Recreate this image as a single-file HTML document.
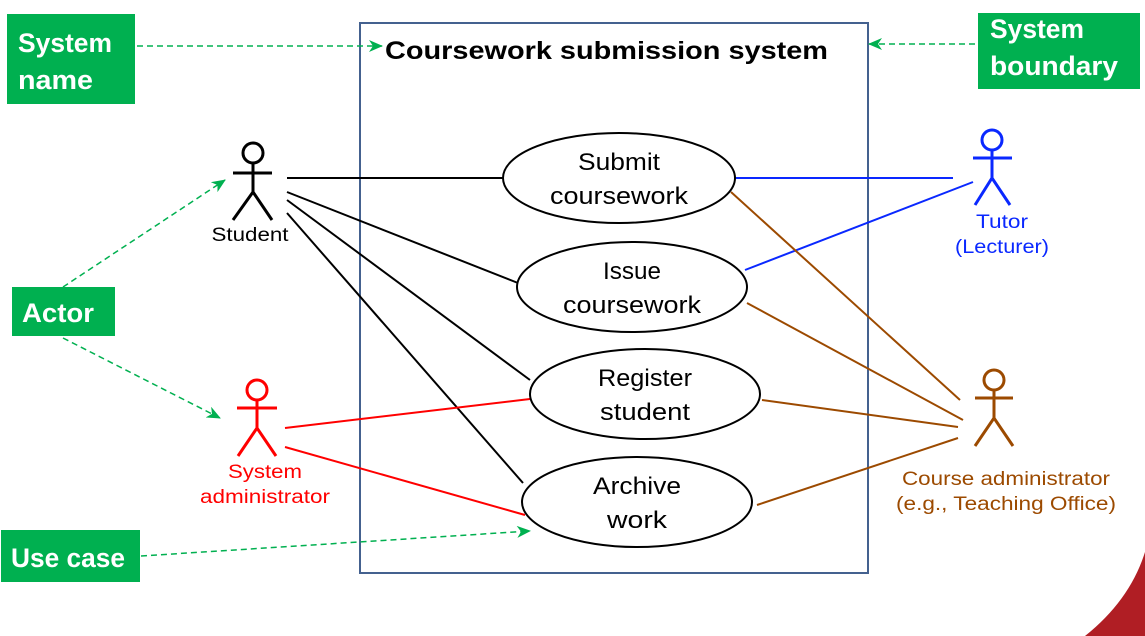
<!DOCTYPE html>
<html><head><meta charset="utf-8"><style>
html,body{margin:0;padding:0;background:#fff}
svg{display:block}
.g{font-family:"Liberation Sans",sans-serif;font-weight:bold;font-size:27px;fill:#fff}
.u{font-family:"Liberation Sans",sans-serif;font-size:24px;fill:#000;text-anchor:middle}
.a{font-family:"Liberation Sans",sans-serif;font-size:19px;text-anchor:middle}
</style></head><body>
<svg width="1145" height="636" viewBox="0 0 1145 636" xmlns="http://www.w3.org/2000/svg">
<defs><marker id="ar" markerWidth="14" markerHeight="12" refX="13" refY="6" orient="auto" markerUnits="userSpaceOnUse"><path d="M0,0 L14,6 L0,12 L4,6 Z" fill="#00b050"/></marker></defs>
<path d="M1145,552 Q1130,600 1085,636 L1145,636 Z" fill="#b01e24"/>
<rect x="360" y="23" width="508" height="550" fill="none" stroke="#44618f" stroke-width="2"/>
<text x="385" y="59" font-family="Liberation Sans,sans-serif" font-weight="bold" font-size="25" fill="#000" textLength="443" lengthAdjust="spacingAndGlyphs">Coursework submission system</text>
<g fill="#00b050">
<rect x="7" y="14" width="128" height="90"/><rect x="978" y="13" width="162" height="76"/>
<rect x="12" y="287" width="103" height="49"/><rect x="1" y="530" width="139" height="52"/></g>
<text class="g" x="18" y="52" textLength="94" lengthAdjust="spacingAndGlyphs">System</text><text class="g" x="18" y="89" textLength="75" lengthAdjust="spacingAndGlyphs">name</text>
<text class="g" x="990" y="38" textLength="94" lengthAdjust="spacingAndGlyphs">System</text><text class="g" x="990" y="75" textLength="128" lengthAdjust="spacingAndGlyphs">boundary</text>
<text class="g" x="22" y="322" textLength="72" lengthAdjust="spacingAndGlyphs">Actor</text><text class="g" x="11" y="567" textLength="114" lengthAdjust="spacingAndGlyphs">Use case</text>
<g stroke="#00b050" stroke-width="1.5" stroke-dasharray="6,4" fill="none" marker-end="url(#ar)">
<line x1="137" y1="46" x2="382" y2="46"/><line x1="975" y1="44" x2="869" y2="44"/>
<line x1="63" y1="287" x2="225" y2="180"/><line x1="63" y1="338" x2="220" y2="418"/>
<line x1="141" y1="556" x2="530" y2="531"/></g>
<g stroke="#000" stroke-width="2"><line x1="287" y1="178" x2="503" y2="178"/><line x1="287" y1="192" x2="518" y2="283"/><line x1="287" y1="200" x2="530" y2="380"/><line x1="287" y1="213" x2="523" y2="483"/></g>
<g stroke="#0a28ff" stroke-width="2"><line x1="735" y1="178" x2="953" y2="178"/><line x1="745" y1="270" x2="973" y2="182"/></g>
<g stroke="#9c4a00" stroke-width="2"><line x1="731" y1="192" x2="960" y2="400"/><line x1="747" y1="303" x2="963" y2="420"/><line x1="762" y1="400" x2="958" y2="427"/><line x1="757" y1="505" x2="958" y2="438"/></g>
<g stroke="#ff0000" stroke-width="2"><line x1="285" y1="428" x2="530" y2="399"/><line x1="285" y1="447" x2="525" y2="515"/></g>
<g fill="#fff" stroke="#000" stroke-width="2">
<ellipse cx="619" cy="178" rx="116" ry="45"/><ellipse cx="632" cy="287" rx="115" ry="45"/>
<ellipse cx="645" cy="394" rx="115" ry="45"/><ellipse cx="637" cy="502" rx="115" ry="45"/></g>
<text class="u" x="619" y="170" textLength="82" lengthAdjust="spacingAndGlyphs">Submit</text><text class="u" x="619" y="204" textLength="138" lengthAdjust="spacingAndGlyphs">coursework</text>
<text class="u" x="632" y="279" textLength="58" lengthAdjust="spacingAndGlyphs">Issue</text><text class="u" x="632" y="313" textLength="138" lengthAdjust="spacingAndGlyphs">coursework</text>
<text class="u" x="645" y="386" textLength="94" lengthAdjust="spacingAndGlyphs">Register</text><text class="u" x="645" y="420" textLength="90" lengthAdjust="spacingAndGlyphs">student</text>
<text class="u" x="637" y="494" textLength="88" lengthAdjust="spacingAndGlyphs">Archive</text><text class="u" x="637" y="528" textLength="60" lengthAdjust="spacingAndGlyphs">work</text>
<g fill="none" stroke-width="3">
<g stroke="#000"><circle cx="253" cy="153" r="10"/><path d="M253,163V192M233,173H272M233,220L253,192L272,220"/></g>
<g stroke="#0a28ff"><circle cx="992" cy="140" r="10"/><path d="M992,150V178M973,158H1012M975,205L992,178L1010,205"/></g>
<g stroke="#ff0000"><circle cx="257" cy="390" r="10"/><path d="M257,400V428M237,408H277M238,456L257,428L276,456"/></g>
<g stroke="#9c4a00"><circle cx="994" cy="380" r="10"/><path d="M994,390V418M975,398H1013M975,446L994,418L1013,446"/></g>
</g>
<text class="a" x="250" y="241" fill="#000" textLength="77" lengthAdjust="spacingAndGlyphs">Student</text>
<text class="a" x="1002" y="228" fill="#0a28ff" textLength="52" lengthAdjust="spacingAndGlyphs">Tutor</text><text class="a" x="1002" y="253" fill="#0a28ff" textLength="94" lengthAdjust="spacingAndGlyphs">(Lecturer)</text>
<text class="a" x="265" y="478" fill="#ff0000" textLength="74" lengthAdjust="spacingAndGlyphs">System</text><text class="a" x="265" y="503" fill="#ff0000" textLength="130" lengthAdjust="spacingAndGlyphs">administrator</text>
<text class="a" x="1006" y="485" fill="#9c4a00" textLength="208" lengthAdjust="spacingAndGlyphs">Course administrator</text><text class="a" x="1006" y="510" fill="#9c4a00" textLength="220" lengthAdjust="spacingAndGlyphs">(e.g., Teaching Office)</text>
</svg>
</body></html>
